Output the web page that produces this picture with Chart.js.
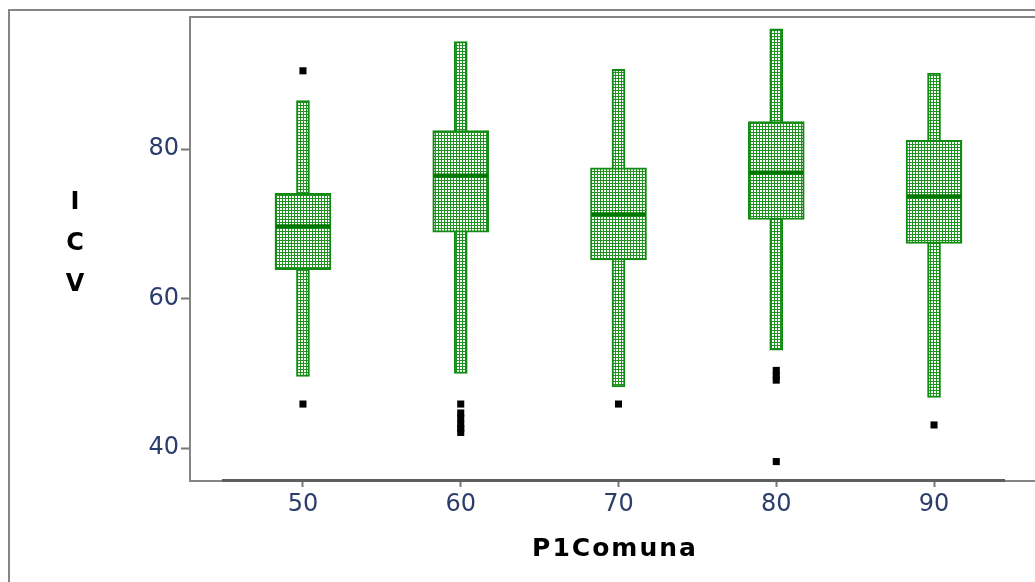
<!DOCTYPE html>
<html>
<head>
  <meta charset="utf-8">
  <title>ICV por P1Comuna</title>
  <style>
    body { margin: 0; background: #fff; overflow: hidden; }
  </style>
</head>
<body>
  <canvas id="grafico" width="1035" height="582"></canvas>

  <script src="https://cdn.jsdelivr.net/npm/chart.js"></script>
  <script>
    // valores
    const comunas = [50, 60, 70, 80, 90];
    const bigodeInf = [49.6, 50.0, 48.2, 53.1, 46.8];
    const q1 = [63.9, 68.9, 65.2, 70.6, 67.4];
    const mediana = [69.7, 76.5, 71.3, 76.9, 73.7];
    const q3 = [74.1, 82.5, 77.5, 83.7, 81.2];
    const bigodeSup = [86.5, 94.4, 90.7, 96.1, 90.2];

    const outlierX = [50, 50, 60, 60, 60, 60, 60, 60, 70, 80, 80, 80, 80, 90];
    const outlierY = [90.5, 45.9, 45.9, 44.7, 44.0, 43.2, 42.6, 42.1, 45.9, 50.4, 49.7, 49.1, 38.2, 43.1];

    const ticksY = [40, 60, 80];
    const ticksX = [50, 60, 70, 80, 90];

    const verde = '#118a11';

    // padrao pontilhado do preenchimento
    function criarPadrao() {
      const c = document.createElement('canvas');
      c.width = 3; c.height = 3;
      const g = c.getContext('2d');
      g.fillStyle = '#fff';
      g.fillRect(0, 0, 3, 3);
      g.fillStyle = '#1f921f';
      g.fillRect(0, 0, 3, 1);
      g.fillRect(0, 0, 1, 3);
      return g.createPattern(c, 'repeat');
    }
    const padrao = criarPadrao();

    // molduras e titulos
    const molduras = {
      id: 'molduras',
      afterDraw(chart) {
        const ctx = chart.ctx;
        const a = chart.chartArea;
        ctx.save();
        ctx.strokeStyle = '#858585';
        ctx.lineWidth = 2;
        ctx.beginPath();
        ctx.moveTo(9, 600); ctx.lineTo(9, 10); ctx.lineTo(1040, 10);
        ctx.moveTo(a.left, a.top); ctx.lineTo(1040, a.top);
        ctx.moveTo(a.right, a.bottom); ctx.lineTo(1040, a.bottom);
        ctx.stroke();
        ctx.strokeStyle = '#5e5e5e';
        ctx.lineWidth = 3;
        ctx.beginPath();
        ctx.moveTo(222, a.bottom - 0.5); ctx.lineTo(1005, a.bottom - 0.5);
        ctx.stroke();

        ctx.fillStyle = '#000';
        ctx.font = 'bold 25px "DejaVu Sans"';
        ctx.textAlign = 'center';
        ctx.textBaseline = 'middle';
        ctx.letterSpacing = '2px';
        ctx.fillText('P1Comuna', 615, 549);
        ctx.letterSpacing = '0px';
        ctx.font = 'bold 24px "DejaVu Sans"';
        ['I', 'C', 'V'].forEach((l, i) => ctx.fillText(l, 75, 203 + i * 41));
        ctx.restore();
      }
    };

    new Chart(document.getElementById('grafico'), {
      data: {
        datasets: [
          {
            type: 'scatter',
            data: comunas.map((c, i) => ({ x: c, y: mediana[i] })),
            pointStyle: 'line',
            radius: 27,
            borderColor: '#007800',
            borderWidth: 4,
            order: 0
          },
          {
            type: 'scatter',
            data: outlierX.map((x, i) => ({ x: x, y: outlierY[i] })),
            pointStyle: 'rect',
            radius: 5,
            backgroundColor: '#000',
            borderColor: '#000',
            borderWidth: 0,
            order: 1
          },
          {
            type: 'bar',
            data: comunas.map((c, i) => ({ x: c, y: [q1[i], q3[i]] })),
            backgroundColor: padrao,
            borderColor: verde,
            borderWidth: 2,
            borderSkipped: false,
            barThickness: 56,
            grouped: false,
            order: 2
          },
          {
            type: 'bar',
            data: comunas.map((c, i) => ({ x: c, y: [bigodeInf[i], bigodeSup[i]] })),
            backgroundColor: padrao,
            borderColor: verde,
            borderWidth: 2,
            borderSkipped: false,
            barThickness: 13,
            grouped: false,
            order: 3
          }
        ]
      },
      options: {
        responsive: false,
        animation: false,
        layout: { autoPadding: false, padding: { top: 17, right: 0, left: 0, bottom: 0 } },
        plugins: { legend: { display: false }, tooltip: { enabled: false } },
        scales: {
          x: {
            type: 'linear',
            offset: false,
            min: 42.84,
            max: 96.4,
            afterBuildTicks: (s) => { s.ticks = ticksX.map(v => ({ value: v })); },
            afterFit: (s) => { s.height = 101; s.paddingLeft = 0; s.paddingRight = 0; },
            grid: { offset: false, drawOnChartArea: false, tickLength: 6, tickColor: '#777', tickWidth: 2 },
            border: { color: '#858585', width: 2 },
            ticks: { color: '#2b3d6b', font: { family: 'DejaVu Sans', size: 24 }, padding: 3, maxRotation: 0 }
          },
          y: {
            min: 35.6,
            max: 97.7,
            afterBuildTicks: (s) => { s.ticks = ticksY.map(v => ({ value: v })); },
            afterFit: (s) => { s.width = 190; s.paddingTop = 0; s.paddingBottom = 0; },
            grid: { drawOnChartArea: false, tickLength: 9, tickColor: '#777', tickWidth: 2 },
            border: { color: '#858585', width: 2 },
            ticks: { color: '#2b3d6b', font: { family: 'DejaVu Sans', size: 24 }, padding: 2 }
          }
        }
      },
      plugins: [molduras]
    });
  </script>
</body>
</html>
